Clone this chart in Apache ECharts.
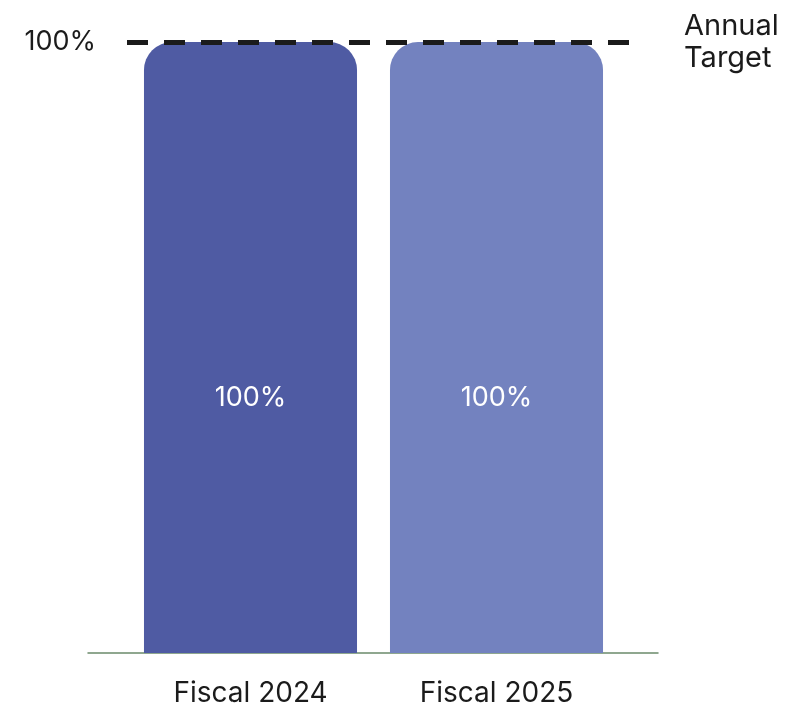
<!DOCTYPE html>
<html>
<head>
<meta charset="utf-8">
<script src="https://cdn.jsdelivr.net/npm/echarts@6/dist/echarts.min.js"></script>
<style>
  html, body { margin: 0; padding: 0; background: #fff; }
  #chart { width: 789px; height: 711px; }
</style>
</head>
<body>
<div id="chart"></div>
<script>
// data
const categories = ["Fiscal 2024", "Fiscal 2025"];
const values = [100, 100];
const barColors = ["#4F5BA3", "#7382BF"];
const targetValue = 100;
const targetLabel = "Annual\nTarget";

const font = "Inter";
const textColor = "#1b1b1b";

const myChart = echarts.init(document.getElementById("chart"));

let option = {
  backgroundColor: "#fff",
  animation: false,
  grid: [
    // bars
    { left: 127.5, right: 169.5, top: 42, bottom: 58 },
    // target line
    { left: 127, right: 154, top: 42, bottom: 58 },
    // baseline
    { left: 88, right: 131, top: 42, bottom: 58 },
  ],
  xAxis: [
    {
      gridIndex: 0,
      type: "category",
      data: categories,
      axisLine: { show: false },
      axisTick: { show: false },
      axisLabel: {
        margin: 27,
        fontFamily: font,
        fontSize: 28,
        color: textColor,
      },
    },
    {
      gridIndex: 1,
      type: "value",
      show: false,
    },
    {
      gridIndex: 2,
      type: "value",
      axisLine: { show: true, lineStyle: { color: "#6b8a6b", width: 1.5 } },
      axisTick: { show: false },
      axisLabel: { show: false },
      splitLine: { show: false },
    },
  ],
  yAxis: [
    {
      gridIndex: 0,
      type: "value",
      min: 0,
      max: 100,
      show: false,
    },
    {
      gridIndex: 1,
      type: "value",
      min: 0,
      max: 100,
      interval: 100,
      axisLine: { show: false },
      axisTick: { show: false },
      splitLine: { show: false },
      axisLabel: {
        margin: 31,
        fontFamily: font,
        fontSize: 27,
        color: textColor,
        formatter: function (v) {
          return v === 100 ? v + "%" : "";
        },
      },
    },
    {
      gridIndex: 2,
      type: "value",
      min: 0,
      max: 100,
      show: false,
    },
  ],
  series: [
    {
      type: "bar",
      xAxisIndex: 0,
      yAxisIndex: 0,
      barWidth: "86.6%",
      data: values.map((v, i) => ({
        value: v,
        itemStyle: { color: barColors[i], borderRadius: [28, 28, 0, 0] },
      })),
      label: {
        show: true,
        position: ["50%", "58.3%"],
        align: "center",
        verticalAlign: "middle",
        fontFamily: font,
        fontSize: 27,
        color: "#fff",
        formatter: function (p) {
          return p.value + "%";
        },
      },
    },
    {
      type: "line",
      xAxisIndex: 1,
      yAxisIndex: 1,
      data: [],
      markLine: {
        symbol: "none",
        silent: true,
        lineStyle: { type: [21, 16], color: "#1b1b1b", width: 5 },
        label: {
          show: true,
          position: "end",
          distance: 49,
          formatter: targetLabel,
          fontFamily: font,
          fontSize: 29,
          lineHeight: 32,
          color: textColor,
          align: "left",
          padding: [0, 0, 6, 0],
        },
        data: [{ yAxis: targetValue }],
      },
    },
  ],
};
myChart.setOption(option);
</script>
</body>
</html>
